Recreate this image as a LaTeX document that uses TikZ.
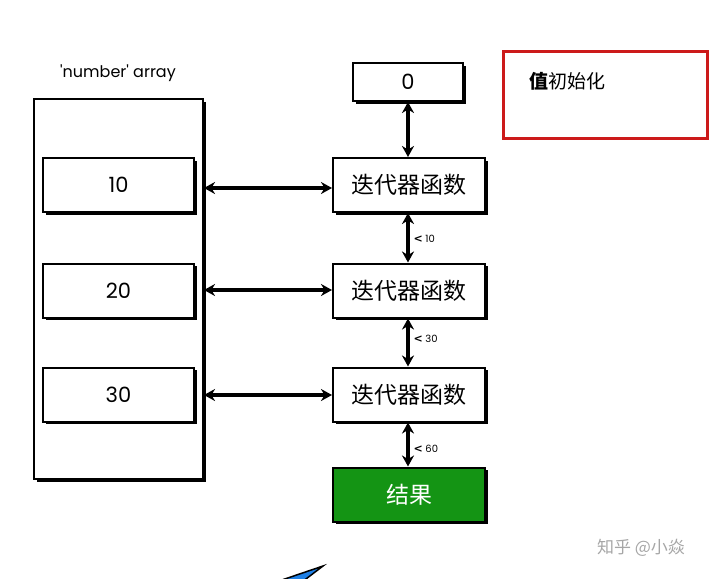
\documentclass[tikz,border=0pt]{standalone}
\usepackage{fontspec}
\setmainfont{Poppins}
\newfontfamily\cjk{Noto Sans CJK SC}
\newfontfamily\dv{DejaVu Sans}
\usetikzlibrary{arrows.meta,shadows}
\definecolor{boxgreen}{HTML}{149414}
\definecolor{boxred}{HTML}{CC1A1A}
\definecolor{cursorblue}{HTML}{1E80E6}
\tikzset{
  box/.style={draw=black, line width=2pt, fill=white, inner sep=0pt,
    drop shadow={shadow xshift=2.5pt, shadow yshift=-2.5pt, fill=black, opacity=1}},
  dbl/.style={line width=3.2pt, {Stealth[length=11pt,width=12pt]}-{Stealth[length=11pt,width=12pt]}},
  small/.style={font=\fontsize{10}{11}\selectfont, anchor=west}
}
\newcommand{\chev}{{\dv\bfseries\fontsize{11}{11}\selectfont <}}
\begin{document}
\begin{tikzpicture}[x=1pt,y=-1pt]
\useasboundingbox (0,0) rectangle (716,579);
% array container
\node[box, minimum width=169pt, minimum height=380pt] (arr) at (118.5,289) {};
\node[font=\fontsize{16}{18}\selectfont] (lbl) at (118,73) {\textquotesingle number\textquotesingle\ array};
% array items
\node[box, minimum width=151pt, minimum height=54pt, font=\fontsize{21}{23}\selectfont] (a1) at (118.5,185) {10};
\node[box, minimum width=151pt, minimum height=54pt, font=\fontsize{21}{23}\selectfont] (a2) at (118.5,290.5) {20};
\node[box, minimum width=151pt, minimum height=54pt, font=\fontsize{21}{23}\selectfont] (a3) at (118.5,394.5) {30};
% iterator column
\node[box, minimum width=110pt, minimum height=38pt, font=\fontsize{21}{23}\selectfont] (z) at (408,82) {0};
\node[box, minimum width=152pt, minimum height=54pt, font=\cjk\fontsize{23}{25}\selectfont] (f1) at (409,185) {迭代器函数};
\node[box, minimum width=152pt, minimum height=54pt, font=\cjk\fontsize{23}{25}\selectfont] (f2) at (409,290.5) {迭代器函数};
\node[box, minimum width=152pt, minimum height=54pt, font=\cjk\fontsize{23}{25}\selectfont] (f3) at (409,394.5) {迭代器函数};
\node[box, fill=boxgreen, text=white, minimum width=152pt, minimum height=54pt, font=\cjk\fontsize{23}{25}\selectfont] (res) at (409,494.5) {结果};
% vertical arrows
\draw[dbl] (z.south -| 408,0) -- (f1.north -| 408,0);
\draw[dbl] (f1.south -| 408,0) -- (f2.north -| 408,0);
\draw[dbl] (f2.south -| 408,0) -- (f3.north -| 408,0);
\draw[dbl] (f3.south -| 408,0) -- (res.north -| 408,0);
\node[small] (l1) at (410,239) {\chev\ 10};
\node[small] (l2) at (410,339) {\chev\ 30};
\node[small] (l3) at (410,449) {\chev\ 60};
% horizontal arrows
\draw[dbl] (arr.east |- 0,188) -- (f1.west |- 0,188);
\draw[dbl] (arr.east |- 0,290) -- (f2.west |- 0,290);
\draw[dbl] (arr.east |- 0,395) -- (f3.west |- 0,395);
% red note box
\node[draw=boxred, line width=3pt, minimum width=204pt, minimum height=87pt] (note) at (605.5,94.5) {};
\node[anchor=west, font=\cjk\fontsize{19}{21}\selectfont] (notetxt) at (526,81) {\textbf{值}初始化};
% watermark
\node[text=black!35, font=\cjk\fontsize{17}{19}\selectfont] (wm) at (641,548) {知乎 @小焱};
% cursor
\filldraw[fill=cursorblue, draw=black, line width=1.5pt] (276,582) -- (323,566) -- (302,582) -- cycle;
\end{tikzpicture}
\end{document}
